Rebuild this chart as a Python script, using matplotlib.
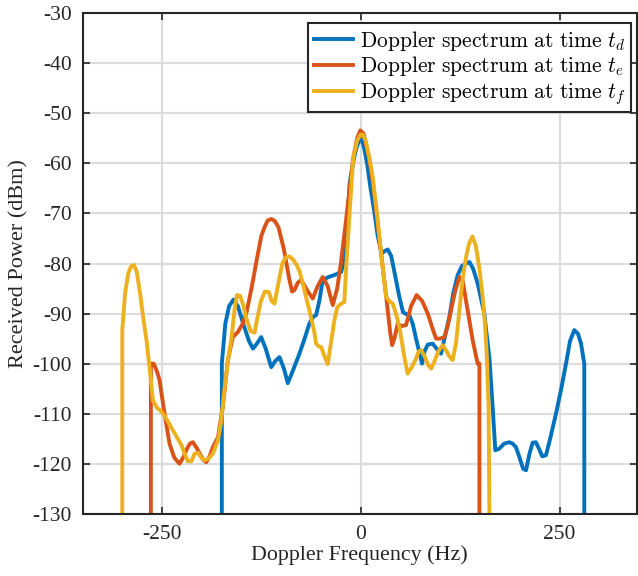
import matplotlib
matplotlib.use("Agg")
import matplotlib.pyplot as plt
import numpy as np

# Doppler spectra as (frequency in Hz, received power in dBm) pairs
spectrum_d = [(-175.2, -140), (-175.2, -100), (-170.8, -92), (-166, -88.5), (-160.5, -87.2),
              (-155, -88.5), (-148.5, -91.9), (-141, -95.5), (-136, -97), (-131, -96),
              (-125.7, -94.7), (-120, -97), (-113, -100.7), (-108, -99.5), (-102.6, -98.7),
              (-97, -101), (-92.2, -103.9), (-86, -101.5), (-81.4, -99.6), (-77.5, -98),
              (-71, -95), (-65, -92), (-60, -90.6), (-56.5, -90.3), (-52.3, -87.3),
              (-48.2, -83.3), (-41, -82.7), (-33.5, -82.3), (-25, -81.7), (-21, -79.3),
              (-17, -72), (-14.3, -64), (-9, -59), (-5.4, -56.7), (0, -54.5), (4, -57),
              (8, -60.4), (12, -65), (17, -69.9), (21, -74.5), (26, -78), (30, -77.5),
              (33.6, -77.2), (38, -78.5), (43.8, -83.1), (48, -86.5), (52.8, -89.7),
              (56.7, -90.1), (61, -90.4), (65, -92), (70, -95.5), (76.8, -100), (80, -97.5),
              (84, -96.2), (90.2, -96), (95, -97), (100.7, -98), (105, -95), (111.2, -90.7),
              (116, -86), (121.7, -82.3), (127, -80.5), (132, -80), (136.4, -79.7),
              (141, -81), (146.8, -84), (151, -87), (155.2, -90), (158, -94), (161.5, -98.7),
              (165.7, -108.7), (169, -117.3), (174, -117), (180, -116), (186.7, -115.7),
              (191, -116), (195, -116.7), (200, -119), (204, -121), (207.7, -121.3),
              (212, -118), (216, -115.8), (220, -115.7), (224, -117), (228, -118.5),
              (232.8, -118.3), (238, -115), (245.4, -110), (252, -105), (258, -100),
              (263, -95.5), (268.4, -93.3), (273, -94), (276.9, -96), (281, -100),
              (281, -140)]

spectrum_e = [(-264.5, -140), (-264.5, -100), (-261, -100), (-257, -101.5), (-253.6, -103.3),
              (-247.3, -110), (-241, -116), (-235, -118.8), (-228.4, -120), (-224, -118.8),
              (-220, -117.3), (-215.5, -116), (-211.7, -115.7), (-207, -116.8), (-203, -118),
              (-198.5, -119.2), (-194.8, -119.7), (-190.5, -118.5), (-186.5, -116.7),
              (-180, -114.7), (-174, -108.7), (-167.6, -99.3), (-161.4, -94.7), (-155, -93.7),
              (-148.8, -92), (-144, -89.7), (-137.3, -84.5), (-130.6, -78.7), (-125.5, -74.5),
              (-121.6, -72.8), (-117.5, -71.4), (-113, -71.1), (-108.5, -71.5), (-103.8, -72.8),
              (-97, -77.2), (-90.3, -83.1), (-86.8, -85.6), (-83.8, -85.3), (-79.5, -83.8),
              (-75.3, -83.3), (-68, -85.3), (-60.8, -87), (-54.5, -84.5), (-48.2, -82.7),
              (-42, -84.5), (-35.6, -88.3), (-30, -85), (-25.5, -80.1), (-18.8, -71.3),
              (-14, -64.5), (-9.8, -58.9), (-5, -55), (-0.9, -53.4), (3, -54), (6, -56),
              (10.6, -59.3), (15, -64), (19, -69.3), (23, -75), (27.3, -80.7), (33.6, -89.3),
              (36.5, -93.5), (39.1, -96.3), (42, -95), (46.2, -92), (51, -92.5), (56.7, -92.3),
              (63, -88.5), (70, -86.3), (77, -87.5), (84, -90), (90, -93), (94.5, -95),
              (99.5, -95), (104.9, -94.7), (109, -92.5), (113.3, -89.3), (118.5, -85.5),
              (123.8, -82.7), (128, -83.5), (132, -87.3), (136.5, -91.5), (140.5, -95.3),
              (146.8, -100), (149, -100), (149, -140)]

spectrum_f = [(-300.5, -140), (-300.5, -93.3), (-297, -86), (-293, -82), (-289.5, -80.6),
              (-286, -80.3), (-282.5, -81.5), (-278, -86), (-274, -91), (-270, -95.3),
              (-266, -101), (-262, -107.3), (-257, -108.8), (-251.5, -109.5), (-245, -111),
              (-239, -112.7), (-232.5, -114.5), (-226, -116.3), (-222, -118), (-218, -119.5),
              (-213.5, -119.5), (-209.5, -118), (-205, -117.8), (-201, -118.8), (-197, -119.3),
              (-192, -119), (-186.5, -118), (-180, -115.3), (-176, -111.5), (-172, -105.3),
              (-167.6, -99.5), (-163.4, -95.3), (-159, -89), (-156, -86.3), (-152, -86.5),
              (-148, -88.5), (-144, -91.1), (-139, -93.5), (-134, -93.8), (-130, -90.5),
              (-126, -87.5), (-121, -85.6), (-116, -85.7), (-112.5, -87.5), (-109, -88),
              (-104, -84), (-99.3, -80.1), (-94.5, -78.7), (-90, -78.6), (-85, -79.3),
              (-81, -80.3), (-77.5, -81.5), (-72.5, -84.5), (-68, -87.5), (-65, -89.3),
              (-59, -93.5), (-56.5, -96), (-53.5, -96.5), (-50.2, -96.7), (-46, -98.5),
              (-41.9, -100.1), (-38, -96), (-33.5, -91.3), (-30, -88.8), (-27.2, -88.3),
              (-23.5, -87.9), (-21, -87.7), (-18.8, -81), (-14, -69), (-9.8, -58.9),
              (-5, -55.5), (-1, -54.3), (2, -54.2), (6, -55.5), (10, -58.5), (14.7, -62.7),
              (19, -68.5), (23.1, -74.7), (27.5, -81), (31.6, -86.7), (35.5, -87.5),
              (39.9, -88), (44, -90), (48.3, -92.7), (54.6, -98.7), (58.7, -102),
              (63.5, -100.8), (69.3, -99), (72.5, -97.6), (75.6, -97.3), (80, -98.5),
              (84.5, -100.3), (88.2, -101), (92.5, -99.5), (97.5, -97.5), (102.8, -96.3),
              (106.5, -97.2), (111, -98.5), (115.3, -99.3), (119.5, -96), (123.8, -89.3),
              (128, -83), (132.2, -78.7), (136, -76), (140.2, -74.6), (144.5, -76.5),
              (149, -81), (153, -86.5), (156, -92), (158.5, -99), (160.6, -108.7),
              (162, -140)]

x_ticks = [-250, 0, 250]
y_ticks = list(range(-130, -20, 10))

series_labels = [r'$\mathrm{Doppler\ spectrum\ at\ time}\ t_d$',
                 r'$\mathrm{Doppler\ spectrum\ at\ time}\ t_e$',
                 r'$\mathrm{Doppler\ spectrum\ at\ time}\ t_f$']
series_colors = ['#0072BD', '#D95319', '#EDB120']

plt.rcParams['font.family'] = ['Liberation Serif', 'DejaVu Serif']
plt.rcParams['mathtext.fontset'] = 'cm'

fig = plt.figure(figsize=(6.38, 5.76), dpi=100)
ax = fig.add_axes([0.130, 0.108, 0.868, 0.869])

for spec, lab, col in zip([spectrum_d, spectrum_e, spectrum_f], series_labels, series_colors):
    fx, py = zip(*spec)
    ax.plot(fx, py, color=col, lw=2.8, label=lab, solid_joinstyle='round')

ax.set_xlim(-350, 347)
ax.set_ylim(-130, -30)
ax.set_xticks(x_ticks)
ax.set_yticks(y_ticks)
ax.set_xticklabels([str(v) for v in x_ticks])
ax.set_yticklabels([str(v) for v in y_ticks])
ax.grid(True, color='#dcdcdc', lw=1.6)
ax.set_axisbelow(True)
ax.tick_params(direction='in', length=5, width=1.2, top=True, right=True,
               labelsize=15.5, colors='#262626', pad=8)
for s in ax.spines.values():
    s.set_linewidth(1.5)
    s.set_color('#262626')

ax.set_xlabel('Doppler Frequency (Hz)', fontsize=15.8, color='#262626', labelpad=1)
ax.set_ylabel('Received Power (dBm)', fontsize=16, color='#262626', labelpad=3)

leg = ax.legend(loc='upper right', bbox_to_anchor=(0.9885, 0.9595),
                bbox_transform=fig.transFigure, fontsize=15.5, fancybox=False,
                framealpha=1, edgecolor='#262626', handlelength=1.85, borderpad=0.25,
                labelspacing=0.08, handletextpad=0.3, borderaxespad=0.0)
leg.get_frame().set_linewidth(1.5)

fig.savefig('out.png', dpi=100)
